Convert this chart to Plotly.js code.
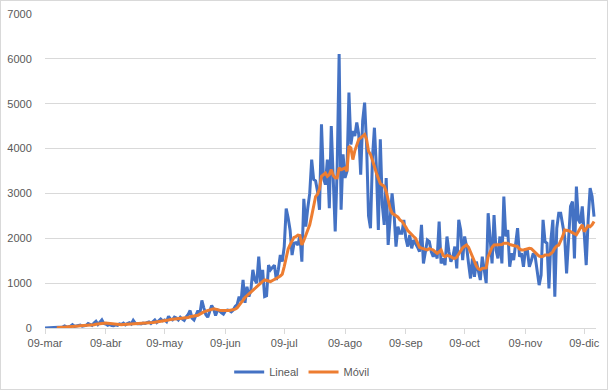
<!DOCTYPE html>
<html>
<head>
<meta charset="utf-8">
<script src="https://cdn.plot.ly/plotly-3.0.1.min.js"></script>
<style>
  html, body { margin: 0; padding: 0; background: #ffffff; }
  #wrap { position: relative; width: 608px; height: 390px; }
  #chart { width: 608px; height: 390px; }
  #frame { position: absolute; left: 0; top: 0; width: 608px; height: 390px; box-sizing: border-box; border: 1px solid #d9d9d9; pointer-events: none; }
</style>
</head>
<body>
<div id="wrap"><div id="chart"></div><div id="frame"></div></div>
<script>
// Daily series start date (first category)
const startDate = "2020-03-09";

// Series names
const seriesNames = ["Lineal", "Móvil"];

// Daily values (blue, "Lineal"), Mar 9 → Dec 14
const lineal = [
  1,2,4,3,6,8,10,12,15,20,
  45,25,30,40,75,35,45,50,65,40,
  55,60,100,70,60,110,150,80,120,180,
  100,90,60,80,55,50,70,60,90,80,
  110,70,100,120,90,170,110,95,100,90,
  110,100,120,135,100,140,180,120,150,200,
  160,180,140,260,200,180,240,220,180,240,
  200,170,250,300,390,220,180,280,390,320,
  615,450,300,240,380,500,420,280,400,380,
  340,310,380,400,390,360,400,480,520,700,
  600,1070,560,920,700,850,1295,1070,1000,1590,
  1000,1295,700,720,1400,1295,1350,1400,1070,1300,
  1630,1480,1810,2660,2450,2180,1625,1890,1900,1850,
  2075,1480,2880,2260,2670,3000,3755,3310,3280,3045,
  2635,4540,3345,3195,3755,2670,4500,3120,2150,3570,
  6110,2635,3870,3345,3495,5250,4090,4390,4280,4580,
  4315,3420,4615,5025,4090,2500,2225,3795,4465,3570,
  2185,4205,2750,2300,3345,1850,2450,3000,2560,1815,
  2260,2110,2110,2410,2000,1815,2075,1775,1960,1890,
  1800,1700,2300,1440,1665,1960,1925,1700,1590,1700,
  1550,2370,1440,1550,1400,2040,1700,1480,1590,1815,
  1330,2410,2185,1515,2040,1815,1440,1105,1550,1140,
  1480,1290,1070,1590,1290,1000,2560,2040,1440,2520,
  1740,1550,2040,1440,2930,2040,2185,1365,1665,1515,
  1815,2225,1590,1665,1365,1740,1740,1365,1500,1665,
  1590,1290,955,1180,2410,1925,1890,880,1960,2410,
  700,2225,2560,2560,2335,2040,1215,1960,2710,2820,
  1550,3155,2410,2335,2710,2110,1400,2410,3120,2930,
  2485
];

// Moving average values (orange, "Móvil")
const movil = [
  null,null,null,null,null,null,8,10,12,15,
  18,22,25,30,38,40,42,45,50,52,
  55,55,62,65,70,75,85,90,100,110,
  115,110,105,100,90,85,75,70,72,75,
  80,82,88,92,95,105,108,110,112,110,
  108,105,110,115,118,122,130,135,140,150,
  160,165,170,180,190,195,205,210,215,215,
  210,215,220,235,250,260,265,270,285,310,
  340,360,375,390,400,420,430,420,400,395,
  390,385,385,390,390,395,410,420,450,500,
  560,620,680,720,780,820,860,900,925,960,
  1000,1040,1070,1060,1040,1035,1060,1080,1110,1130,
  1160,1200,1370,1600,1760,1860,1950,2020,2040,2070,
  2060,1850,1950,2075,2150,2300,2500,2750,2930,2980,
  3100,3380,3420,3455,3380,3420,3530,3400,3350,3345,
  3570,3530,3550,3570,3495,4055,4015,3755,3950,4090,
  4205,4240,4280,4315,4205,3940,3870,3750,3600,3455,
  3310,3220,3190,3160,3045,2850,2670,2560,2520,2500,
  2470,2410,2380,2320,2250,2170,2120,2080,2040,2000,
  1880,1800,1780,1770,1750,1740,1770,1760,1740,1700,
  1665,1700,1740,1620,1590,1620,1610,1590,1560,1550,
  1580,1650,1740,1790,1820,1850,1800,1700,1590,1460,
  1380,1320,1300,1330,1330,1340,1590,1720,1800,1850,
  1850,1860,1850,1860,1890,1890,1890,1860,1850,1850,
  1840,1815,1760,1740,1740,1750,1775,1775,1770,1720,
  1690,1640,1600,1590,1600,1625,1625,1625,1660,1700,
  1780,1830,1850,1950,2040,2185,2185,2170,2150,2130,
  2110,2080,2150,2220,2300,2150,2225,2280,2260,2300,
  2375
];

// Axis ticks
const tickDates = ["2020-03-09","2020-04-09","2020-05-09","2020-06-09","2020-07-09","2020-08-09","2020-09-09","2020-10-09","2020-11-09","2020-12-09"];
const tickLabels = ["09-mar","09-abr","09-may","09-jun","09-jul","09-ago","09-sep","09-oct","09-nov","09-dic"];
const yTicks = [0,1000,2000,3000,4000,5000,6000,7000];

// Build the daily category dates
const dates = [];
const t0 = Date.parse(startDate + "T00:00:00Z");
for (let i = 0; i < lineal.length; i++) {
  dates.push(new Date(t0 + i * 86400000).toISOString().slice(0, 10));
}

const font = { family: "Liberation Sans, Arial, sans-serif", size: 11, color: "#595959" };

const traces = [
  { x: dates, y: lineal, name: seriesNames[0], type: "scatter", mode: "lines",
    line: { color: "#4472C4", width: 3 } },
  { x: dates, y: movil, name: seriesNames[1], type: "scatter", mode: "lines",
    line: { color: "#ED7D31", width: 3 } }
];

const layout = {
  width: 608, height: 390,
  margin: { l: 45, r: 12, t: 14, b: 62, autoexpand: false },
  paper_bgcolor: "#ffffff", plot_bgcolor: "#ffffff",
  font: font,
  showlegend: true,
  legend: { orientation: "h", xref: "container", x: 0.497, xanchor: "center",
            yref: "container", y: 0.046, yanchor: "middle",
            font: font, itemwidth: 30, bgcolor: "rgba(0,0,0,0)" },
  xaxis: {
    type: "date", range: ["2020-03-09", "2020-12-15"],
    tickvals: tickDates, ticktext: tickLabels,
    showgrid: false, zeroline: false,
    showline: true, linecolor: "#d9d9d9", linewidth: 1,
    ticks: "outside", ticklen: 5, tickcolor: "#d9d9d9",
    tickfont: font, fixedrange: true, automargin: false
  },
  yaxis: {
    range: [0, 7000], tickvals: yTicks,
    showgrid: true, gridcolor: "#d9d9d9", gridwidth: 1,
    zeroline: false, showline: false,
    ticks: "outside", ticklen: 10, tickcolor: "rgba(0,0,0,0)",
    tickfont: font, fixedrange: true, automargin: false
  }
};

Plotly.newPlot("chart", traces, layout, { displayModeBar: false, staticPlot: true });
</script>
</body>
</html>
